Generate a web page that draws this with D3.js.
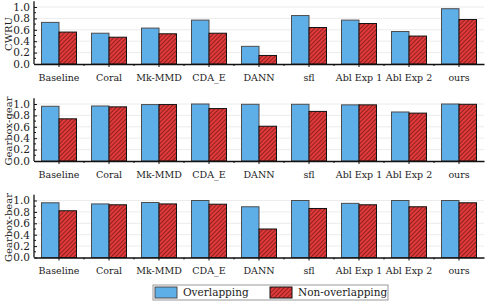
<!DOCTYPE html>
<html>
<head>
<meta charset="utf-8">
<script src="https://cdn.jsdelivr.net/npm/d3@7"></script>
<style>
body { margin: 0; background: #fff; }
svg { display: block; }
text { font-family: "DejaVu Serif", "Liberation Serif", serif; fill: #222; }
</style>
</head>
<body>
<svg width="485" height="301"></svg>
<script>
var categories = ["Baseline", "Coral", "Mk-MMD", "CDA_E", "DANN", "sfl", "Abl Exp 1", "Abl Exp 2", "ours"];
var seriesNames = ["Overlapping", "Non-overlapping"];
var panelNames = ["CWRU", "Gearbox-gear", "Gearbox-bear"];
var yTicks = [0, 0.2, 0.4, 0.6, 0.8, 1.0];

// values
var cwruOverlap    = [0.73, 0.54, 0.63, 0.77, 0.31, 0.85, 0.77, 0.57, 0.97];
var cwruNonOverlap = [0.56, 0.47, 0.53, 0.54, 0.15, 0.64, 0.71, 0.49, 0.78];
var gearOverlap    = [0.96, 0.965, 0.99, 1.0, 0.995, 0.995, 0.985, 0.86, 1.0];
var gearNonOverlap = [0.74, 0.95, 0.99, 0.92, 0.61, 0.87, 0.985, 0.84, 0.995];
var bearOverlap    = [0.96, 0.94, 0.965, 1.0, 0.89, 1.0, 0.95, 1.0, 1.0];
var bearNonOverlap = [0.82, 0.925, 0.94, 0.935, 0.50, 0.86, 0.925, 0.89, 0.96];

var panels = [
  {name: panelNames[0], a: cwruOverlap, b: cwruNonOverlap, base: 64},
  {name: panelNames[1], a: gearOverlap, b: gearNonOverlap, base: 161},
  {name: panelNames[2], a: bearOverlap, b: bearNonOverlap, base: 257.5}
];

var svg = d3.select("svg");
var blue = "#5eaee8", red = "#e23a3a";

var defs = svg.append("defs");
var pat = defs.append("pattern")
    .attr("id", "hatch")
    .attr("patternUnits", "userSpaceOnUse")
    .attr("width", 3).attr("height", 3)
    .attr("patternTransform", "rotate(45)");
pat.append("rect").attr("width", 3).attr("height", 3).attr("fill", red);
pat.append("line")
    .attr("x1", 0).attr("y1", 0).attr("x2", 0).attr("y2", 3)
    .attr("stroke", "#4a0c0c").attr("stroke-width", 1.1);

var x = d3.scaleBand().domain(categories).range([34, 484]).paddingInner(0.3).paddingOuter(0.15);
var xs = d3.scaleBand().domain(seriesNames).range([0, x.bandwidth()]);
var step = x.step();

panels.forEach(function(p) {
  var y = d3.scaleLinear().domain([0, 1.1]).range([p.base, p.base - 1.1 * 57]);
  var g = svg.append("g");

  // grid
  g.selectAll(".grid").data(yTicks.slice(1)).enter().append("line")
      .attr("x1", 34).attr("x2", 484)
      .attr("y1", function(d) { return y(d); }).attr("y2", function(d) { return y(d); })
      .attr("stroke", "#ececec").attr("stroke-width", 1);

  // bars
  var groups = g.selectAll(".grp").data(categories).enter().append("g")
      .attr("transform", function(d) { return "translate(" + x(d) + ",0)"; });
  groups.append("rect")
      .attr("x", xs(seriesNames[0]))
      .attr("y", function(d, i) { return y(p.a[i]); })
      .attr("width", xs.bandwidth())
      .attr("height", function(d, i) { return y(0) - y(p.a[i]); })
      .attr("fill", blue).attr("stroke", "#4d4d4d").attr("stroke-width", 1);
  groups.append("rect")
      .attr("x", xs(seriesNames[1]))
      .attr("y", function(d, i) { return y(p.b[i]); })
      .attr("width", xs.bandwidth())
      .attr("height", function(d, i) { return y(0) - y(p.b[i]); })
      .attr("fill", "url(#hatch)").attr("stroke", "#111").attr("stroke-width", 1);

  // y axis (ticks inside)
  var yAxis = d3.axisRight(y).tickValues(yTicks).tickSize(3).tickFormat(d3.format(".1f"));
  var ya = g.append("g").attr("transform", "translate(34,0)").call(yAxis);
  ya.select(".domain").attr("d", "M0," + y(1.1) + "V" + y(0)).attr("stroke", "#111").attr("stroke-width", 1.3);
  ya.selectAll(".tick text").attr("x", -4).attr("text-anchor", "end").style("font-size", "10.5px").attr("fill", "#222");
  ya.selectAll(".tick line").attr("stroke", "#111");
  g.selectAll(".ymin").data(d3.range(0.1, 1.1, 0.2)).enter().append("line")
      .attr("x1", 34).attr("x2", 36)
      .attr("y1", function(d) { return y(d); }).attr("y2", function(d) { return y(d); })
      .attr("stroke", "#111");

  // x axis
  var xAxis = d3.axisBottom(x).tickSize(3).tickSizeOuter(0);
  var xa = g.append("g").attr("transform", "translate(0," + y(0) + ")").call(xAxis);
  xa.select(".domain").attr("stroke", "#111").attr("stroke-width", 1.3);
  xa.selectAll(".tick line").attr("stroke", "#111");
  xa.selectAll(".tick text").attr("y", 10).style("font-size", "9.5px").attr("fill", "#222");
  g.selectAll(".xmin").data(categories.slice(1)).enter().append("line")
      .attr("x1", function(d) { return x(d) - step * 0.15; })
      .attr("x2", function(d) { return x(d) - step * 0.15; })
      .attr("y1", y(0)).attr("y2", y(0) + 2)
      .attr("stroke", "#111");

  // y label
  g.append("text")
      .attr("transform", "translate(12," + (p.base - 30) + ") rotate(-90)")
      .attr("text-anchor", "middle")
      .style("font-size", "10px")
      .text(p.name);
});

// legend
var lg = svg.append("g");
lg.append("rect").attr("x", 153).attr("y", 285).attr("width", 235).attr("height", 15)
    .attr("fill", "#fff").attr("stroke", "#999").attr("stroke-width", 1);
var items = [{name: seriesNames[0], fill: blue, stroke: "#4d4d4d", x: 155},
             {name: seriesNames[1], fill: "url(#hatch)", stroke: "#111", x: 270}];
var it = lg.selectAll(".it").data(items).enter().append("g")
    .attr("transform", function(d) { return "translate(" + d.x + ",0)"; });
it.append("rect").attr("x", 0).attr("y", 287).attr("width", 22).attr("height", 11)
    .attr("fill", function(d) { return d.fill; })
    .attr("stroke", function(d) { return d.stroke; });
it.append("text").attr("x", 28).attr("y", 296).style("font-size", "10.5px")
    .text(function(d) { return d.name; });
</script>
</body>
</html>
